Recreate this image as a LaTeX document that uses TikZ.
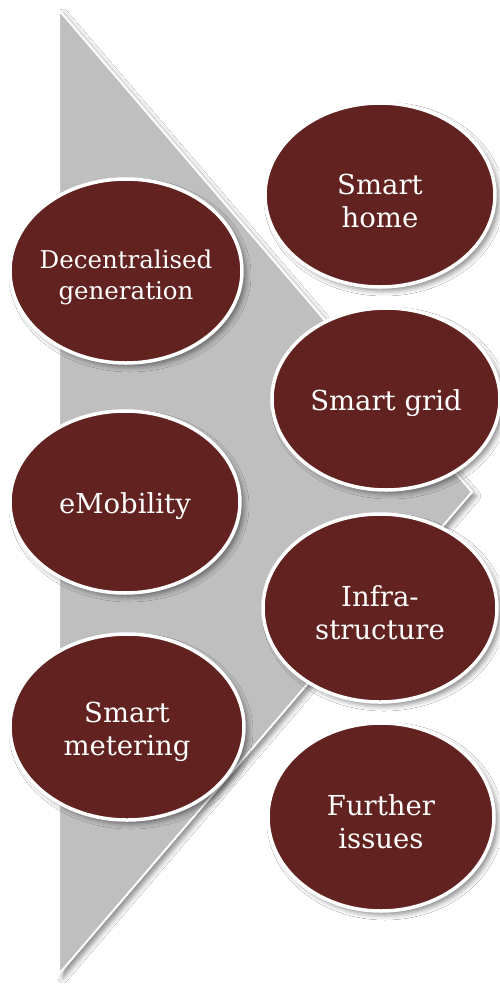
\documentclass[tikz,border=0pt]{standalone}
\usepackage{fontspec}
\setmainfont{DejaVu Serif}
\usetikzlibrary{shapes.geometric,shadows.blur}
\definecolor{topicred}{HTML}{612220}
\definecolor{arrowgray}{HTML}{BFBFBF}
\begin{document}
\begin{tikzpicture}[x=1pt,y=-1pt,
  topic/.style={ellipse, draw=white, line width=3.5pt, fill=topicred, inner sep=0pt,
    blur shadow={shadow xshift=4pt, shadow yshift=-4pt, shadow blur radius=5pt, shadow opacity=45}},
  topictext/.style={text=white, align=center, inner sep=0pt,
    font=\fontsize{27.5}{33}\selectfont},
  arrowshape/.style={fill=arrowgray, draw=white, line width=2pt, line join=miter,
    blur shadow={shadow xshift=4pt, shadow yshift=-4pt, shadow blur radius=5pt, shadow opacity=45}}
  ]
\useasboundingbox (0,0) rectangle (499,986);
\fill[white] (0,0) rectangle (499,986);
% big arrow
\path[arrowshape] (59,10) -- (472,492) -- (59,974) -- cycle;
% left column
\node[topic, minimum width=232pt, minimum height=184pt] (dg) at (126,271) {};
\node[topictext, font=\fontsize{24.5}{31}\selectfont] (dgt) at ([yshift=-6pt]dg.center) {Decentralised\\generation};
\node[topic, minimum width=230pt, minimum height=182pt] (em) at (125,502) {};
\node[topictext] (emt) at ([yshift=-4pt]em.center) {eMobility};
\node[topic, minimum width=234pt, minimum height=186pt] (sm) at (127,727) {};
\node[topictext] (smt) at ([yshift=-5pt]sm.center) {Smart\\metering};
% right column
\node[topic, minimum width=230pt, minimum height=184pt] (sh) at (380,195) {};
\node[topictext] (sht) at ([yshift=-6pt]sh.center) {Smart\\home};
\node[topic, minimum width=228pt, minimum height=182pt] (sg) at (386,399) {};
\node[topictext] (sgt) at ([yshift=-4pt]sg.center) {Smart grid};
\node[topic, minimum width=234pt, minimum height=188pt] (in) at (380,608) {};
\node[topictext] (int) at ([yshift=-5pt]in.center) {Infra-\\structure};
\node[topic, minimum width=226pt, minimum height=188pt] (fi) at (381,817) {};
\node[topictext] (fit) at ([yshift=-5pt]fi.center) {Further\\issues};
\end{tikzpicture}
\end{document}
